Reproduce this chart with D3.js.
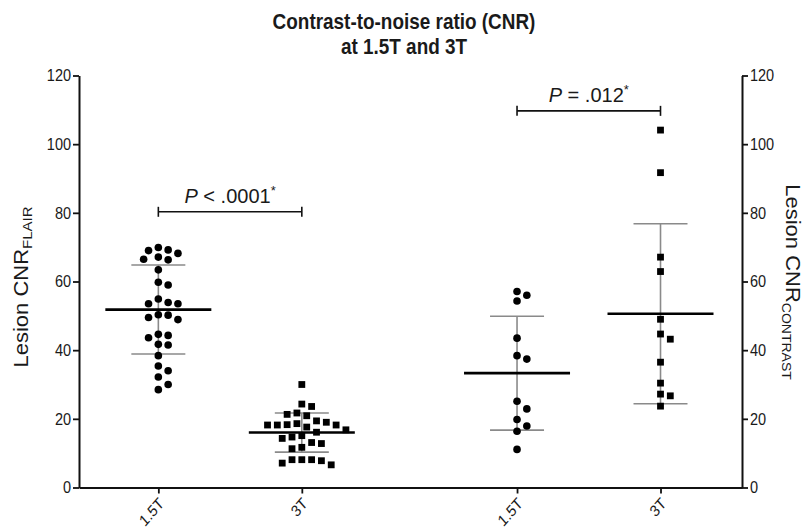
<!DOCTYPE html>
<html>
<head>
<meta charset="utf-8">
<script src="https://cdn.jsdelivr.net/npm/d3@7"></script>
<style>
body { margin: 0; background: #fff; }
text { font-family: "Liberation Sans", Arial, sans-serif; fill: #1a1a1a; }
</style>
</head>
<body>
<div id="chart"></div>
<script>
// size of svg
const width = 807; const height = 532;
const margin = {top: 75.5, right: 65, bottom: 44.5, left: 79};
// text in the picture looks a bit narrow, squeeze it horizontally
const sx = 0.88;

// data
const groups = ['1.5T', '3T', '1.5T', '3T'];
const groupPos = [1, 2, 3.5, 4.5];
const shapes = ['circle', 'square', 'circle', 'square'];
const flair15 = [69.9, 69.2, 69.0, 68.2, 67.1, 66.5, 66.3, 63.4, 59.8, 59.0, 54.9, 53.9, 53.5, 53.5, 50.3,
                 50.2, 49.5, 48.9, 44.6, 44.3, 43.6, 41.7, 41.5, 38.4, 35.4, 34.0, 32.2, 30.0, 28.5];
const flair3 = [30.0, 24.3, 23.6, 21.7, 21.3, 20.9, 19.4, 19.0, 18.6, 18.3, 18.2, 18.2, 18.2, 17.6, 16.8,
                16.1, 15.1, 14.7, 14.3, 13.1, 12.8, 11.7, 11.3, 8.1, 8.1, 8.1, 7.8, 7.1, 6.6];
const contrast15 = [57.1, 56.0, 54.3, 43.5, 38.4, 37.4, 25.1, 22.9, 19.8, 17.9, 16.4, 11.1];
const contrast3 = [104.1, 91.7, 67.1, 62.9, 49.0, 44.7, 43.2, 36.5, 30.4, 27.2, 26.7, 23.7];
const means = [51.8, 16.0, 33.3, 50.6];
const sdHigh = [64.8, 21.7, 49.9, 76.8];
const sdLow = [38.9, 10.3, 16.7, 24.4];
const yTicks = [0, 20, 40, 60, 80, 100, 120];
const pPairs = [[0, 1], [2, 3]];
const pLevels = [80.3, 109.7];
const pTexts = [' < .0001', ' = .012'];

const series = [flair15, flair3, contrast15, contrast3];

let svg = d3.select('#chart')
    .append('svg')
        .attr('width', width)
        .attr('height', height);

const x = d3.scaleLinear()
    .domain([0.447, 5.068])
    .range([margin.left, width - margin.right]);
const y = d3.scaleLinear()
    .domain([0, 120])
    .range([height - margin.bottom, margin.top]);
// right axis has the same range
const yR = y.copy();

function squeeze(tx, ty, rot) {
    return `translate(${tx},${ty}) scale(${sx},1)` + (rot ? ` rotate(${rot})` : '');
}

// title
svg.append('text')
    .attr('transform', squeeze(404, 29))
    .attr('text-anchor', 'middle')
    .attr('font-size', 21.5).attr('font-weight', 'bold')
    .text('Contrast-to-noise ratio (CNR)');
svg.append('text')
    .attr('transform', squeeze(404, 54))
    .attr('text-anchor', 'middle')
    .attr('font-size', 21.5).attr('font-weight', 'bold')
    .text('at 1.5T and 3T');

// axes
const leftAxis = svg.append('g')
    .attr('transform', `translate(${margin.left},0)`)
    .call(d3.axisLeft(y).tickValues(yTicks).tickSize(6).tickSizeOuter(0).tickPadding(3));
const rightAxis = svg.append('g')
    .attr('transform', `translate(${width - margin.right},0)`)
    .call(d3.axisRight(yR).tickValues(yTicks).tickSize(6).tickSizeOuter(0).tickPadding(3));
const bottomAxis = svg.append('g')
    .attr('transform', `translate(0,${height - margin.bottom})`)
    .call(d3.axisBottom(x).tickValues(groupPos).tickFormat((d, i) => groups[i]).tickSize(6).tickSizeOuter(0));

[leftAxis, rightAxis, bottomAxis].forEach(g => {
    g.select('.domain').attr('stroke', '#111').attr('stroke-width', 2);
    g.selectAll('.tick line').attr('stroke', '#111').attr('stroke-width', 1.8);
    g.selectAll('.tick text').attr('font-size', 16.5).attr('fill', '#1a1a1a')
        .attr('font-family', '"Liberation Sans", Arial, sans-serif');
});
leftAxis.selectAll('.tick text').attr('transform', `scale(${sx},1)`);
rightAxis.selectAll('.tick text').attr('transform', `scale(${sx},1)`);
bottomAxis.selectAll('.tick text')
    .attr('x', 0).attr('y', 0).attr('dy', 0)
    .attr('font-size', 16)
    .attr('text-anchor', 'end')
    .attr('transform', squeeze(6, 17, -45));

// axis titles
const leftTitle = svg.append('text')
    .attr('transform', `translate(28,287) rotate(-90) scale(1,${sx})`)
    .attr('text-anchor', 'middle')
    .attr('font-size', 22);
leftTitle.append('tspan').text('Lesion CNR');
leftTitle.append('tspan').attr('font-size', 15).attr('dy', 5).text('FLAIR');

const rightTitle = svg.append('text')
    .attr('transform', `translate(786,282) rotate(90) scale(1,${sx})`)
    .attr('text-anchor', 'middle')
    .attr('font-size', 22);
rightTitle.append('tspan').text('Lesion CNR');
rightTitle.append('tspan').attr('font-size', 14).attr('dy', 5).text('CONTRAST');

// simple beeswarm: put each point at the nearest free column
function swarm(values, step, minDist) {
    const placed = [];
    const sorted = values.map(v => ({v: v, py: y(v)})).sort((a, b) => a.py - b.py);
    sorted.forEach(p => {
        for (let k = 0; k < 60; k++) {
            const off = (k % 2 ? 1 : -1) * Math.ceil(k / 2) * step;
            const hit = placed.some(q => {
                const dx = off - q.off, dy = p.py - q.py;
                return dx * dx + dy * dy < minDist * minDist;
            });
            if (!hit) { p.off = off; break; }
        }
        placed.push(p);
    });
    return placed;
}

const plotG = svg.append('g');

series.forEach((vals, i) => {
    const cx = x(groupPos[i]);
    // SD bar (grey)
    plotG.append('line')
        .attr('x1', cx).attr('x2', cx)
        .attr('y1', y(sdLow[i])).attr('y2', y(sdHigh[i]))
        .attr('stroke', '#8a8a8a').attr('stroke-width', 1.6);
    [sdLow[i], sdHigh[i]].forEach(v => {
        plotG.append('line')
            .attr('x1', cx - 27).attr('x2', cx + 27)
            .attr('y1', y(v)).attr('y2', y(v))
            .attr('stroke', '#8a8a8a').attr('stroke-width', 1.6);
    });

    const pts = swarm(vals, 4.9, 9.4);
    if (shapes[i] === 'circle') {
        plotG.selectAll(null).data(pts).join('circle')
            .attr('cx', d => cx + d.off)
            .attr('cy', d => d.py)
            .attr('r', 3.8)
            .attr('fill', '#000');
    } else {
        plotG.selectAll(null).data(pts).join('rect')
            .attr('x', d => cx + d.off - 3.4)
            .attr('y', d => d.py - 3.4)
            .attr('width', 6.8).attr('height', 6.8)
            .attr('fill', '#000');
    }

    // mean line
    plotG.append('line')
        .attr('x1', cx - 53).attr('x2', cx + 53)
        .attr('y1', y(means[i])).attr('y2', y(means[i]))
        .attr('stroke', '#000').attr('stroke-width', 2.6);
});

// significance brackets
pPairs.forEach((pr, i) => {
    const x1 = x(groupPos[pr[0]]), x2 = x(groupPos[pr[1]]);
    const yy = y(pLevels[i]);
    const g = svg.append('g').attr('stroke', '#111').attr('stroke-width', 1.6);
    g.append('line').attr('x1', x1).attr('x2', x2).attr('y1', yy).attr('y2', yy);
    g.append('line').attr('x1', x1).attr('x2', x1).attr('y1', yy - 5).attr('y2', yy + 5);
    g.append('line').attr('x1', x2).attr('x2', x2).attr('y1', yy - 5).attr('y2', yy + 5);

    const t = svg.append('text')
        .attr('transform', `translate(${(x1 + x2) / 2},${yy - 9})`)
        .attr('text-anchor', 'middle')
        .attr('font-size', 20);
    t.append('tspan').attr('font-style', 'italic').text('P');
    t.append('tspan').text(pTexts[i]);
    t.append('tspan').attr('font-size', 13).attr('dy', -8).text('*');
});
</script>
</body>
</html>
